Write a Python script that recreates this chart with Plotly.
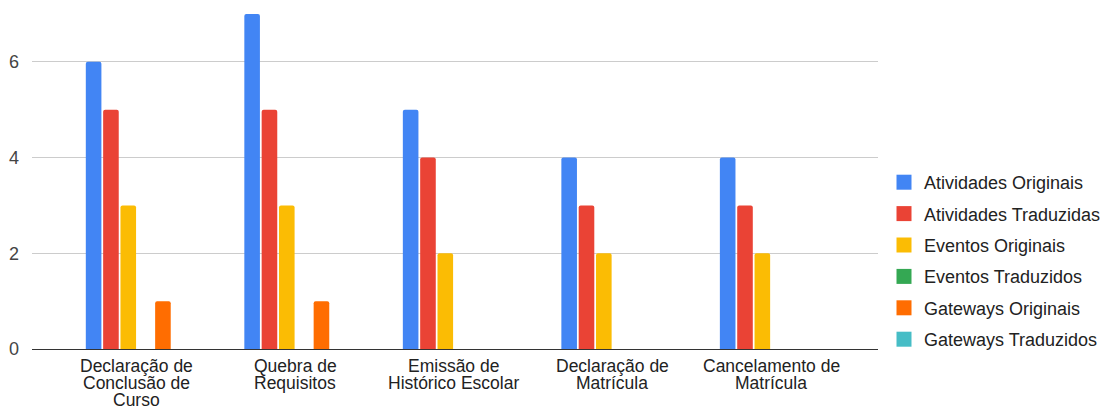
import plotly.graph_objects as go

categories = [
    "Declaração de<br>Conclusão de<br>Curso",
    "Quebra de<br>Requisitos",
    "Emissão de<br>Histórico Escolar",
    "Declaração de<br>Matrícula",
    "Cancelamento de<br>Matrícula",
]
series_names = [
    "Atividades Originais",
    "Atividades Traduzidas",
    "Eventos Originais",
    "Eventos Traduzidos",
    "Gateways Originais",
    "Gateways Traduzidos",
]
atividades_originais = [6, 7, 5, 4, 4]
atividades_traduzidas = [5, 5, 4, 3, 3]
eventos_originais = [3, 3, 2, 2, 2]
eventos_traduzidos = [0, 0, 0, 0, 0]
gateways_originais = [1, 1, 0, 0, 0]
gateways_traduzidos = [0, 0, 0, 0, 0]
series_values = [
    atividades_originais,
    atividades_traduzidas,
    eventos_originais,
    eventos_traduzidos,
    gateways_originais,
    gateways_traduzidos,
]
colors = ["#4285F4", "#EA4335", "#FBBC04", "#34A853", "#FF6D01", "#46BDC6"]
y_ticks = [0, 2, 4, 6]

FONT = "Liberation Sans, Arial, sans-serif"
FS = 18
FS_CAT = 17.5

fig = go.Figure()
for i, (name, vals, col) in enumerate(zip(series_names, series_values, colors)):
    fig.add_trace(go.Bar(
        x=list(range(len(categories))), y=vals, name=name,
        marker=dict(color=col, line=dict(width=0), cornerradius=2),
        legendgroup=f"g{i}", showlegend=False,
    ))
    # legend entry with a larger square swatch (like the reference)
    fig.add_trace(go.Scatter(
        x=[None], y=[None], name=name, mode="markers",
        marker=dict(symbol="square", size=15, color=col, line=dict(width=0)),
        legendgroup=f"g{i}", showlegend=True, hoverinfo="skip",
    ))

# category labels as per-line annotations (tight line spacing like the reference)
annotations = []
for i, lab in enumerate(categories):
    for j, line in enumerate(lab.split("<br>")):
        annotations.append(dict(
            x=i, xref="x", y=0, yref="paper",
            text=line, showarrow=False,
            xanchor="center", yanchor="middle",
            yshift=-16.5 - 17.3 * j,
            font=dict(family=FONT, size=FS_CAT, color="#222222"),
        ))

fig.update_layout(
    width=1105, height=410,
    margin=dict(l=32, r=227, t=14, b=61),
    paper_bgcolor="white", plot_bgcolor="white",
    barmode="group", bargap=0.344, bargroupgap=0.1,
    font=dict(family=FONT, size=FS, color="#222222"),
    showlegend=True,
    legend=dict(
        xref="container", yref="container",
        x=0.800, y=0.600, xanchor="left", yanchor="top",
        font=dict(size=FS, color="#222222"),
        tracegroupgap=5, itemwidth=30, itemsizing="trace",
        bgcolor="rgba(0,0,0,0)",
    ),
    xaxis=dict(
        range=[-0.662, 4.675],
        tickmode="array", tickvals=list(range(len(categories))),
        showticklabels=False, automargin=False,
        showgrid=False, zeroline=False, showline=False, ticks="",
    ),
    yaxis=dict(
        range=[0, 7], tickmode="array", tickvals=y_ticks,
        showgrid=True, gridcolor="#cccccc", gridwidth=1,
        zeroline=True, zerolinecolor="#333333", zerolinewidth=1,
        showline=False, ticks="", ticklabelstandoff=12, automargin=False,
        tickfont=dict(size=FS, color="#444444"),
    ),
    annotations=annotations,
)

fig.write_html("out.html")
